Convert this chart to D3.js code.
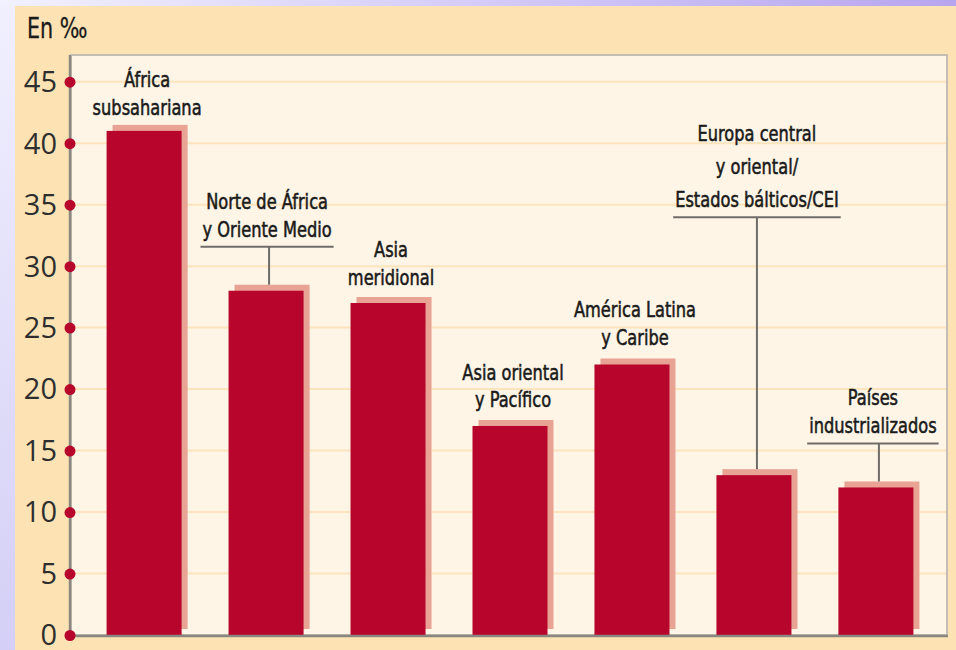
<!DOCTYPE html>
<html>
<head>
<meta charset="utf-8">
<script src="https://cdn.jsdelivr.net/npm/d3@7"></script>
<style>
  html, body { margin: 0; padding: 0; background: #eceafc; }
  svg { display: block; }
  .lbl { font-family: "Liberation Sans Narrow", "DejaVu Sans Condensed", "DejaVu Sans", sans-serif; font-stretch: condensed; font-size: 22px; fill: #1a1a1a; stroke: #1a1a1a; stroke-width: 0.55px; }
  .y_axis text { font-family: "Open Sans", "Liberation Sans", sans-serif; font-size: 29px; fill: #2e2e2e; }
</style>
</head>
<body>
<div id="chart"></div>
<script>
// Data
var categories = ["África subsahariana", "Norte de África y Oriente Medio", "Asia meridional",
    "Asia oriental y Pacífico", "América Latina y Caribe",
    "Europa central y oriental/Estados bálticos/CEI", "Países industrializados"];
var labelLines = [
    ["África", "subsahariana"],
    ["Norte de África", "y Oriente Medio"],
    ["Asia", "meridional"],
    ["Asia oriental", "y Pacífico"],
    ["América Latina", "y Caribe"],
    ["Europa central", "y oriental/", "Estados bálticos/CEI"],
    ["Países", "industrializados"]
];
var values = [41, 28, 27, 17, 22, 13, 12];
var yTicks = [0, 5, 10, 15, 20, 25, 30, 35, 40, 45];
var unitLabel = "En ‰";

// Label placement (gap above bar shadow, line height, x shift), leader when gap is large
var labelGap = [10, 48, 12, 13, 13, 262, 48];
var labelLineH = [28, 28, 28, 27, 28, 33, 28];
var labelShift = [0, -2, 0, 0, 0, 0, -6];
var squeeze = 0.82;   // horizontal condensing of label text

var W = 956, H = 650;
var plotL = 71, plotR = 947, plotT = 55, plotB = 635;
var shadowOff = 6;

var svg = d3.select("#chart").append("svg")
    .attr("width", W)
    .attr("height", H);

// Gradients for the outer frame
var defs = svg.append("defs");
var gTop = defs.append("linearGradient").attr("id", "gTop");
gTop.append("stop").attr("offset", "0%").attr("stop-color", "#f2f1fe");
gTop.append("stop").attr("offset", "100%").attr("stop-color", "#b6a6ef");
var gLeft = defs.append("linearGradient").attr("id", "gLeft")
    .attr("x1", 0).attr("y1", 0).attr("x2", 0).attr("y2", 1);
gLeft.append("stop").attr("offset", "0%").attr("stop-color", "#f1f0fe");
gLeft.append("stop").attr("offset", "100%").attr("stop-color", "#d3cff6");

svg.append("rect").attr("width", W).attr("height", H).attr("fill", "url(#gLeft)");
svg.append("rect").attr("width", W).attr("height", 6).attr("fill", "url(#gTop)");
svg.append("rect").attr("x", 15).attr("y", 6).attr("width", W - 15).attr("height", H - 6)
    .attr("fill", "#fde3b4");

// Plot area
svg.append("rect")
    .attr("x", plotL).attr("y", plotT)
    .attr("width", plotR - plotL).attr("height", plotB - plotT)
    .attr("fill", "#fef5e6")
    .attr("stroke", "#c4bdb3")
    .attr("stroke-width", 2);

// Scales
var xScale = d3.scaleBand()
    .domain(categories)
    .range([70, 950])
    .paddingInner(0.385)
    .paddingOuter(0.3);
var yScale = d3.scaleLinear()
    .domain([0, 45])
    .range([plotB, 81.7]);

// Gridlines
svg.append("g")
    .selectAll("line")
    .data(yTicks.filter(d => d > 0))
    .enter()
    .append("line")
    .attr("x1", plotL + 1).attr("x2", plotR - 1)
    .attr("y1", d => yScale(d)).attr("y2", d => yScale(d))
    .attr("stroke", "#fde4bd")
    .attr("stroke-width", 2);

// Bars with offset shadow
var bars = svg.append("g").selectAll(".bar")
    .data(values)
    .enter()
    .append("g")
    .attr("class", "bar");

bars.append("rect")
    .attr("x", (d, i) => xScale(categories[i]) + shadowOff)
    .attr("y", d => yScale(d) - shadowOff)
    .attr("width", xScale.bandwidth())
    .attr("height", d => yScale(0) - yScale(d))
    .attr("fill", "#e9a395");

bars.append("rect")
    .attr("x", (d, i) => xScale(categories[i]))
    .attr("y", d => yScale(d))
    .attr("width", xScale.bandwidth())
    .attr("height", d => yScale(0) - yScale(d))
    .attr("fill", "#b8052c");

// Axis lines
svg.append("line")
    .attr("x1", plotL - 1).attr("x2", plotL - 1)
    .attr("y1", plotT).attr("y2", plotB + 1)
    .attr("stroke", "#8a8680").attr("stroke-width", 2.5);
svg.append("line")
    .attr("x1", plotL - 1).attr("x2", plotR + 1)
    .attr("y1", plotB + 1).attr("y2", plotB + 1)
    .attr("stroke", "#8a8680").attr("stroke-width", 2.5);

// Y axis with red dots
var yAxis = d3.axisLeft(yScale).tickValues(yTicks).tickSize(0).tickPadding(13);
var yAxisG = svg.append("g")
    .attr("class", "y_axis")
    .attr("transform", "translate(" + (plotL - 1) + ",0)")
    .call(yAxis);
yAxisG.select(".domain").remove();
yAxisG.selectAll(".tick text").attr("dy", "0.34em");
yAxisG.selectAll(".tick")
    .append("circle")
    .attr("r", 5.5)
    .attr("fill", "#b8052c");

// Unit label
svg.append("text")
    .attr("class", "lbl")
    .attr("transform", "translate(27,38) scale(" + squeeze + ",1)")
    .style("font-size", "28px")
    .style("stroke-width", "0.3px")
    .text(unitLabel);

// Category labels
var labels = svg.append("g").selectAll(".catLabel")
    .data(labelLines)
    .enter()
    .append("g")
    .attr("class", "catLabel");

labels.each(function(lines, i) {
    var g = d3.select(this);
    var cx = xScale(categories[i]) + xScale.bandwidth() / 2 + shadowOff / 2;
    var top = yScale(values[i]) - shadowOff;
    var lastBase = top - labelGap[i];
    var lh = labelLineH[i];
    var tx = cx + labelShift[i];

    var t = g.append("text")
        .attr("class", "lbl")
        .attr("text-anchor", "middle")
        .attr("transform", "translate(" + tx + ",0) scale(" + squeeze + ",1)");
    lines.forEach((ln, j) => {
        t.append("tspan")
            .attr("x", 0)
            .attr("y", lastBase - (lines.length - 1 - j) * lh)
            .text(ln);
    });

    if (labelGap[i] > 30) {
        var bb = t.node().getBBox();
        var uy = lastBase + 10;
        g.append("line")
            .attr("x1", tx + bb.x * squeeze - 2).attr("x2", tx + (bb.x + bb.width) * squeeze + 2)
            .attr("y1", uy).attr("y2", uy)
            .attr("stroke", "#6f6c68").attr("stroke-width", 2);
        g.append("line")
            .attr("x1", cx).attr("x2", cx)
            .attr("y1", uy).attr("y2", top)
            .attr("stroke", "#6f6c68").attr("stroke-width", 2);
    }
});
</script>
</body>
</html>
